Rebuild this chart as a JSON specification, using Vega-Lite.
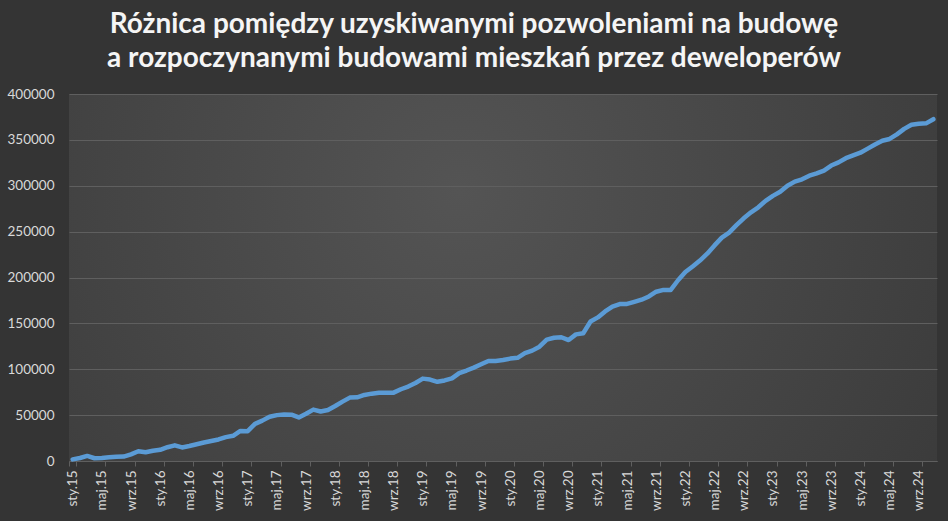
{
  "$schema": "https://vega.github.io/schema/vega-lite/v6.json",
  "autosize": "none",
  "width": 868,
  "height": 367,
  "padding": {"left": 69, "top": 94, "right": 11, "bottom": 60},
  "background": "#343434",
  "config": {
    "view": {"stroke": null, "fill": {"gradient": "radial", "x1": 0.45, "y1": 0.4, "r1": 0, "x2": 0.45, "y2": 0.4, "r2": 0.75, "stops": [{"offset": 0, "color": "#545454"}, {"offset": 1, "color": "#373737"}]}},
    "font": "Lato"
  },
  "title": {
    "text": ["Różnica pomiędzy uzyskiwanymi pozwoleniami na budowę", "a rozpoczynanymi budowami mieszkań przez deweloperów"],
    "font": "Lato",
    "fontSize": 28,
    "fontWeight": "bold",
    "color": "#f5f5f5",
    "anchor": "middle",
    "frame": "group",
    "dx": -29,
    "offset": 14,
    "lineHeight": 34
  },
  "data": {"values": [
    {"m": "sty.15", "v": 1800}, {"m": "lut.15", "v": 3300}, {"m": "mar.15", "v": 5500}, {"m": "kwi.15", "v": 3000}, {"m": "maj.15", "v": 3300}, {"m": "cze.15", "v": 4000}, {"m": "lip.15", "v": 4700}, {"m": "sie.15", "v": 4800}, {"m": "wrz.15", "v": 7300}, {"m": "paź.15", "v": 10600}, {"m": "lis.15", "v": 9500}, {"m": "gru.15", "v": 11200},
    {"m": "sty.16", "v": 12200}, {"m": "lut.16", "v": 15000}, {"m": "mar.16", "v": 17100}, {"m": "kwi.16", "v": 14800}, {"m": "maj.16", "v": 16400}, {"m": "cze.16", "v": 18300}, {"m": "lip.16", "v": 20200}, {"m": "sie.16", "v": 21800}, {"m": "wrz.16", "v": 23500}, {"m": "paź.16", "v": 26000}, {"m": "lis.16", "v": 27500}, {"m": "gru.16", "v": 32800},
    {"m": "sty.17", "v": 32500}, {"m": "lut.17", "v": 40500}, {"m": "mar.17", "v": 44000}, {"m": "kwi.17", "v": 48200}, {"m": "maj.17", "v": 50000}, {"m": "cze.17", "v": 50700}, {"m": "lip.17", "v": 50500}, {"m": "sie.17", "v": 47500}, {"m": "wrz.17", "v": 51500}, {"m": "paź.17", "v": 56000}, {"m": "lis.17", "v": 54000}, {"m": "gru.17", "v": 55600},
    {"m": "sty.18", "v": 60000}, {"m": "lut.18", "v": 64700}, {"m": "mar.18", "v": 69100}, {"m": "kwi.18", "v": 69400}, {"m": "maj.18", "v": 72000}, {"m": "cze.18", "v": 73400}, {"m": "lip.18", "v": 74300}, {"m": "sie.18", "v": 74500}, {"m": "wrz.18", "v": 74500}, {"m": "paź.18", "v": 78200}, {"m": "lis.18", "v": 81100}, {"m": "gru.18", "v": 85000},
    {"m": "sty.19", "v": 89800}, {"m": "lut.19", "v": 88800}, {"m": "mar.19", "v": 86300}, {"m": "kwi.19", "v": 87800}, {"m": "maj.19", "v": 90000}, {"m": "cze.19", "v": 95800}, {"m": "lip.19", "v": 98600}, {"m": "sie.19", "v": 101800}, {"m": "wrz.19", "v": 105400}, {"m": "paź.19", "v": 109000}, {"m": "lis.19", "v": 109000}, {"m": "gru.19", "v": 110000},
    {"m": "sty.20", "v": 111600}, {"m": "lut.20", "v": 112500}, {"m": "mar.20", "v": 117600}, {"m": "kwi.20", "v": 120300}, {"m": "maj.20", "v": 124600}, {"m": "cze.20", "v": 132300}, {"m": "lip.20", "v": 134300}, {"m": "sie.20", "v": 134900}, {"m": "wrz.20", "v": 131800}, {"m": "paź.20", "v": 138000}, {"m": "lis.20", "v": 139300}, {"m": "gru.20", "v": 152000},
    {"m": "sty.21", "v": 156500}, {"m": "lut.21", "v": 163000}, {"m": "mar.21", "v": 168300}, {"m": "kwi.21", "v": 171000}, {"m": "maj.21", "v": 171200}, {"m": "cze.21", "v": 173500}, {"m": "lip.21", "v": 175800}, {"m": "sie.21", "v": 179300}, {"m": "wrz.21", "v": 184500}, {"m": "paź.21", "v": 186500}, {"m": "lis.21", "v": 186500}, {"m": "gru.21", "v": 197000},
    {"m": "sty.22", "v": 206000}, {"m": "lut.22", "v": 212000}, {"m": "mar.22", "v": 218500}, {"m": "kwi.22", "v": 226000}, {"m": "maj.22", "v": 235000}, {"m": "cze.22", "v": 243500}, {"m": "lip.22", "v": 249000}, {"m": "sie.22", "v": 257000}, {"m": "wrz.22", "v": 264500}, {"m": "paź.22", "v": 271000}, {"m": "lis.22", "v": 276500}, {"m": "gru.22", "v": 283500},
    {"m": "sty.23", "v": 289000}, {"m": "lut.23", "v": 293500}, {"m": "mar.23", "v": 300000}, {"m": "kwi.23", "v": 304500}, {"m": "maj.23", "v": 307000}, {"m": "cze.23", "v": 311000}, {"m": "lip.23", "v": 313500}, {"m": "sie.23", "v": 316500}, {"m": "wrz.23", "v": 322000}, {"m": "paź.23", "v": 325500}, {"m": "lis.23", "v": 330000}, {"m": "gru.23", "v": 333000},
    {"m": "sty.24", "v": 336000}, {"m": "lut.24", "v": 340500}, {"m": "mar.24", "v": 345000}, {"m": "kwi.24", "v": 349000}, {"m": "maj.24", "v": 351000}, {"m": "cze.24", "v": 356000}, {"m": "lip.24", "v": 362000}, {"m": "sie.24", "v": 366500}, {"m": "wrz.24", "v": 367500}, {"m": "paź.24", "v": 368000}, {"m": "lis.24", "v": 372500}
  ]},
  "mark": {"type": "line", "color": "#5b9bd5", "strokeWidth": 4.5, "strokeCap": "round", "strokeJoin": "round"},
  "encoding": {
    "x": {
      "field": "m", "type": "nominal", "sort": null, "title": null,
      "scale": {"type": "band", "paddingInner": 0, "paddingOuter": 0},
      "bandPosition": 0.5,
      "axis": {
        "values": ["sty.15", "maj.15", "wrz.15", "sty.16", "maj.16", "wrz.16", "sty.17", "maj.17", "wrz.17", "sty.18", "maj.18", "wrz.18", "sty.19", "maj.19", "wrz.19", "sty.20", "maj.20", "wrz.20", "sty.21", "maj.21", "wrz.21", "sty.22", "maj.22", "wrz.22", "sty.23", "maj.23", "wrz.23", "sty.24", "maj.24", "wrz.24"],
        "tickBand": "extent",
        "labelAngle": -90,
        "labelAlign": "right",
        "labelBaseline": "middle",
        "labelFont": "Lato",
        "labelFontSize": 13.5,
        "labelColor": "#d9d9d9",
        "labelPadding": 4,
        "domainColor": "#5f5f5f",
        "tickColor": "#5f5f5f",
        "tickSize": 5,
        "grid": false
      }
    },
    "y": {
      "field": "v", "type": "quantitative", "title": null,
      "scale": {"domain": [0, 400000], "nice": false},
      "axis": {
        "values": [0, 50000, 100000, 150000, 200000, 250000, 300000, 350000, 400000],
        "format": "d",
        "labelFont": "Lato",
        "labelFontSize": 13.5,
        "labelColor": "#d9d9d9",
        "labelPadding": 15,
        "ticks": false,
        "domain": false,
        "gridColor": "#5f5f5f",
        "gridWidth": 1.2
      }
    }
  }
}
